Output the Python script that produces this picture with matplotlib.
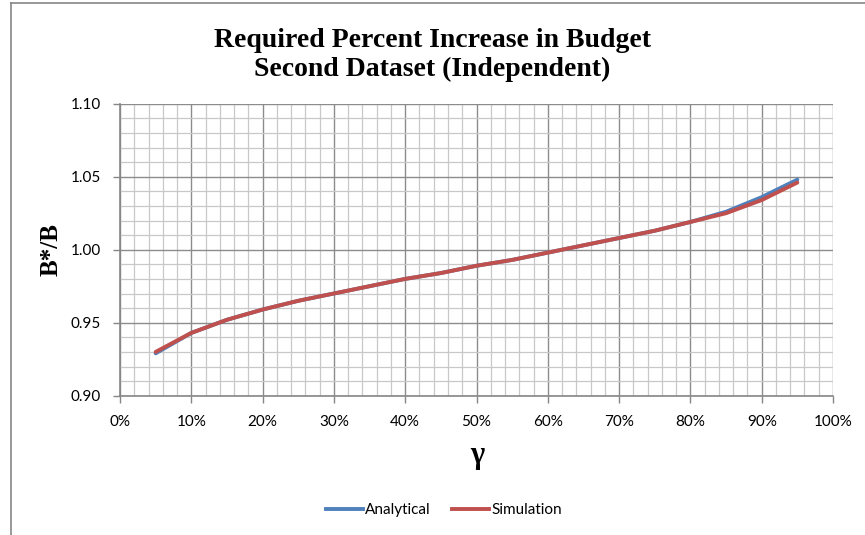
import matplotlib
matplotlib.use("Agg")
import matplotlib.pyplot as plt
from matplotlib.ticker import MultipleLocator, PercentFormatter, FormatStrFormatter
from matplotlib.lines import Line2D

# data
gamma = [0.05, 0.10, 0.15, 0.20, 0.25, 0.30, 0.35, 0.40, 0.45, 0.50,
         0.55, 0.60, 0.65, 0.70, 0.75, 0.80, 0.85, 0.90, 0.95]
analytical = [0.929, 0.943, 0.952, 0.959, 0.965, 0.970, 0.975, 0.980, 0.984, 0.989,
              0.993, 0.998, 1.003, 1.008, 1.013, 1.019, 1.026, 1.036, 1.048]
simulation = [0.930, 0.943, 0.952, 0.959, 0.965, 0.970, 0.975, 0.980, 0.984, 0.989,
              0.993, 0.998, 1.003, 1.008, 1.013, 1.019, 1.025, 1.034, 1.046]

title = "Required Percent Increase in Budget\nSecond Dataset (Independent)"
blue = "#4F81BD"
red = "#C0504D"

fig = plt.figure(figsize=(8.65, 5.35), dpi=100)
ax = fig.add_axes([120/865, 1 - 395.7/535, 713/865, 292/535])

ax.plot(gamma, analytical, color=blue, lw=2.8, solid_capstyle="round", zorder=3)
ax.plot(gamma, simulation, color=red, lw=2.8, solid_capstyle="round", zorder=4)

ax.set_xlim(0, 1)
ax.set_ylim(0.90, 1.10)
ax.xaxis.set_major_locator(MultipleLocator(0.1))
ax.xaxis.set_minor_locator(MultipleLocator(0.02))
ax.yaxis.set_major_locator(MultipleLocator(0.05))
ax.yaxis.set_minor_locator(MultipleLocator(0.01))
ax.xaxis.set_major_formatter(PercentFormatter(1.0, decimals=0))
ax.yaxis.set_major_formatter(FormatStrFormatter("%.2f"))

ax.grid(which="minor", color="#C8C8C8", lw=0.9, zorder=0)
ax.grid(which="major", color="#8C8C8C", lw=1.0, zorder=1)
ax.set_axisbelow(True)

for s in ["top", "right"]:
    ax.spines[s].set_visible(False)
for s in ["left", "bottom"]:
    ax.spines[s].set_color("#868686")
    ax.spines[s].set_linewidth(1.2)

ax.tick_params(which="major", direction="out", length=5, width=1, color="#868686",
               labelsize=11, labelcolor="#000000")
ax.tick_params(axis="x", pad=9)
ax.tick_params(axis="y", pad=9)
ax.tick_params(which="minor", length=0)
for lab in ax.get_xticklabels() + ax.get_yticklabels():
    lab.set_family("Lato")

fig.text(432/865, 1 - 55/535, title, ha="center", va="center",
         family="Liberation Serif", weight="bold", fontsize=20, linespacing=1.2)
fig.text(51/865, 1 - 249/535, "B*/B", ha="center", va="center", rotation=90,
         family="Liberation Serif", weight="bold", fontsize=18)
fig.text(477/865, 1 - 456/535, "\u03b3", ha="center", va="center",
         family="Liberation Serif", weight="bold", fontsize=22)

handles = [Line2D([], [], color=blue, lw=2.8), Line2D([], [], color=red, lw=2.8)]
fig.legend(handles, ["Analytical", "Simulation"], loc="center",
           bbox_to_anchor=(444/865, 1 - 510/535), ncol=2, frameon=False,
           prop={"family": "Lato", "size": 11}, handlelength=2.4,
           handletextpad=0.15, columnspacing=1.4)

# chart area border
fig.add_artist(Line2D([10.5/865, 10.5/865], [0, 1 - 2.5/535], color="#868686", lw=1.2))
fig.add_artist(Line2D([10.5/865, 1], [1 - 2.5/535, 1 - 2.5/535], color="#868686", lw=1.2))

fig.savefig("out.png", dpi=100)
